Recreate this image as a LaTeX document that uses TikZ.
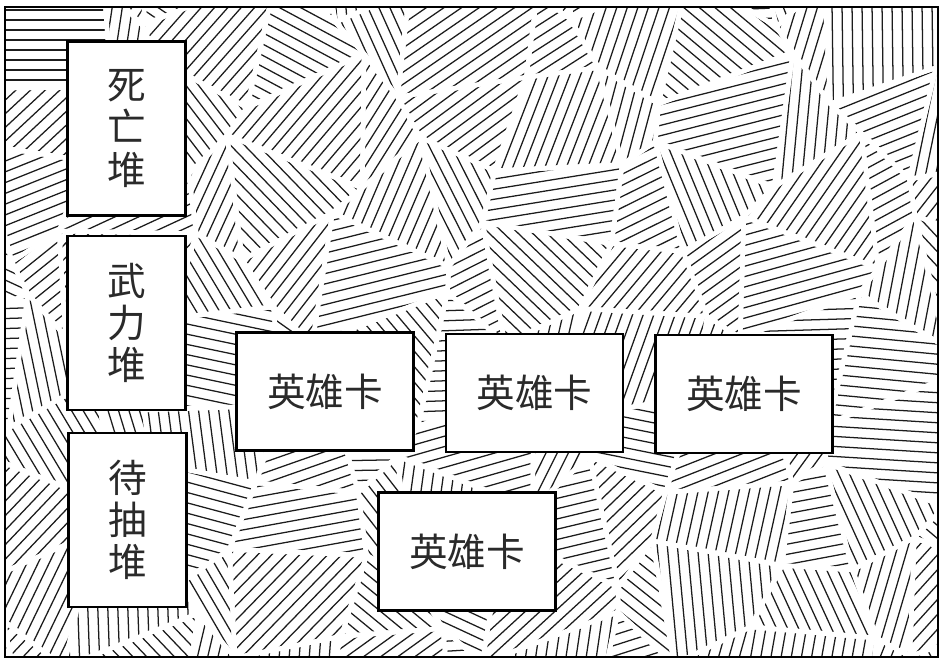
\documentclass[tikz,border=0pt]{standalone}
\usepackage{fontspec}
\newfontfamily\cjk{Noto Sans CJK SC}
\definecolor{PileInk}{HTML}{2A2A2A}
\definecolor{HatchInk}{HTML}{1C1C1C}
% jitter of the tile corners and hatch angle of each tile
\pgfmathdeclarefunction{jx}{2}{\pgfmathparse{28*sin(#1*137.3+#2*291.7)}}
\pgfmathdeclarefunction{jy}{2}{\pgfmathparse{28*sin(#1*211.9+#2*163.1)}}
\pgfmathdeclarefunction{hang}{2}{\pgfmathparse{mod(abs(9973*sin(#1*12.9898+#2*78.233)),180)}}
\tikzset{
  hatch/.style={HatchInk,line width=.72pt},
  seam/.style={white,line width=2.6pt,line join=round},
  card/.style={draw=black,fill=white,line width=1.3pt,inner sep=0pt,outer sep=0pt,
    font=\cjk\fontsize{22}{24}\selectfont,text=PileInk,align=center},
  pile/.style={card,minimum width=2.36cm,minimum height=3.48cm},
  hero/.style={card,minimum width=3.54cm,minimum height=2.36cm}
}

\begin{document}
\begin{tikzpicture}[x=0.02cm,y=-0.02cm]
\path[use as bounding box] (0,0) rectangle (942,663);
\fill[white] (0,0) rectangle (942,663);
% hatched tiles
\begin{scope}
\clip (5,7) rectangle (938,657);
\foreach \i in {-1,...,11}{
  \foreach \j in {-1,...,8}{
    \pgfmathsetmacro\ang{hang(\i,\j)}
    \begin{scope}
      \clip ({\i*85+jx(\i,\j)},{\j*80+jy(\i,\j)})
        -- ({(\i+1)*85+jx(\i+1,\j)},{\j*80+jy(\i+1,\j)})
        -- ({(\i+1)*85+jx(\i+1,\j+1)},{(\j+1)*80+jy(\i+1,\j+1)})
        -- ({\i*85+jx(\i,\j+1)},{(\j+1)*80+jy(\i,\j+1)}) -- cycle;
      \begin{scope}[shift={({\i*85+42.5},{\j*80+40})},rotate=\ang]
        \foreach \k in {-12,...,12} \draw[hatch] (-115,\k*10) -- (115,\k*10);
      \end{scope}
    \end{scope}
  }
}
\foreach \i in {-1,...,11}{
  \foreach \j in {-1,...,8}{
    \draw[seam] ({\i*85+jx(\i,\j)},{\j*80+jy(\i,\j)})
      -- ({(\i+1)*85+jx(\i+1,\j)},{\j*80+jy(\i+1,\j)})
      -- ({(\i+1)*85+jx(\i+1,\j+1)},{(\j+1)*80+jy(\i+1,\j+1)})
      -- ({\i*85+jx(\i,\j+1)},{(\j+1)*80+jy(\i,\j+1)}) -- cycle;
  }
}
\end{scope}
\draw[line width=1.3pt] (5,7) rectangle (938,657);
% piles
\node[pile] (dead) at (126.5,128.5) {死\\亡\\堆};
\node[pile] (force) at (126.5,323) {武\\力\\堆};
\node[pile] (deck) at (127.5,520) {待\\抽\\堆};
% hero cards
\node[hero] (hero1) at (325,391.5) {英雄卡};
\node[hero] (hero2) at (534.5,393) {英雄卡};
\node[hero] (hero3) at (744,394) {英雄卡};
\node[hero] (hero4) at (467,551.5) {英雄卡};
\end{tikzpicture}
\end{document}
